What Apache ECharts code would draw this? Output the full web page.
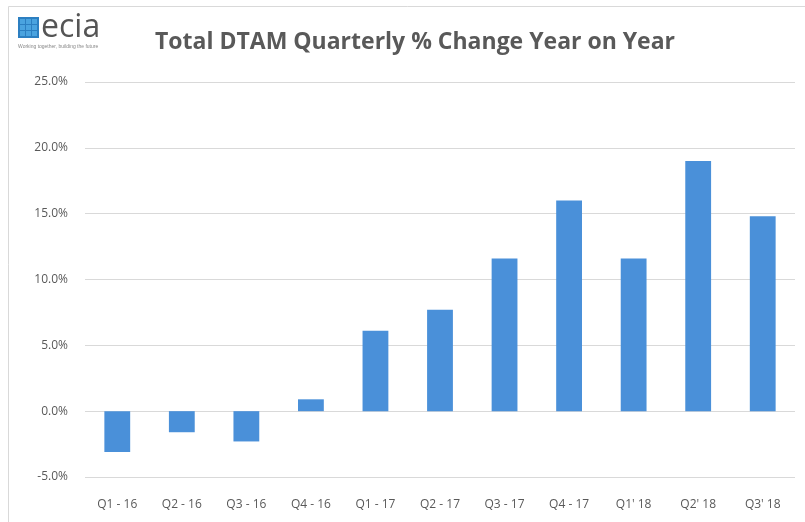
<!DOCTYPE html>
<html><head><meta charset="utf-8">
<script src="https://cdn.jsdelivr.net/npm/echarts@6/dist/echarts.min.js"></script>
<style>html,body{margin:0;padding:0;background:#fff}#c{width:805px;height:522px}</style>
</head><body><div id="c"></div>
<script>
var categories = ["Q1 - 16","Q2 - 16","Q3 - 16","Q4 - 16","Q1 - 17","Q2 - 17","Q3 - 17","Q4 - 17","Q1' 18","Q2' 18","Q3' 18"];
var values = [-3.1, -1.6, -2.3, 0.9, 6.1, 7.7, 11.6, 16.0, 11.6, 19.0, 14.8];
var titleText = "Total DTAM Quarterly % Change Year on Year";

var chart = echarts.init(document.getElementById('c'), null, {renderer:'canvas'});
var logoCells = [];
for (var r=0;r<3;r++) for (var q=0;q<3;q++) {
  logoCells.push({type:'rect', shape:{x:20+q*6, y:19+r*6, width:5, height:5}, style:{fill:'#4aa3df'}});
}
chart.setOption({
  backgroundColor:'#fff',
  animation:false,
  title:{text:titleText, left:150, top:26, textStyle:{fontFamily:'Open Sans', fontWeight:'bold', fontSize:23, color:'#595959'}},
  graphic:[
    {type:'rect', shape:{x:8.5,y:6.5,width:800,height:520}, style:{fill:'none', stroke:'#d9d9d9', lineWidth:1}},
    {type:'rect', shape:{x:18,y:17,width:21,height:21}, style:{fill:'#2c7fc1'}}
  ].concat(logoCells).concat([
    {type:'text', style:{x:41, y:12, text:'ecia', font:'32px "Liberation Sans Narrow", "Open Sans", sans-serif', fill:'#555'}},
    {type:'text', style:{x:18, y:44, text:'Working together, building the future', font:'5px sans-serif', fill:'#888'}}
  ]),
  grid:{left:85, right:10, top:82, bottom:45, containLabel:false},
  xAxis:{type:'category', data:categories,
    axisLine:{show:false}, axisTick:{show:false},
    axisLabel:{color:'#595959', fontSize:12, fontFamily:'Open Sans', margin:22, interval:0}
  },
  yAxis:{type:'value', min:-5, max:25, interval:5,
    axisLabel:{formatter:function(v){return v.toFixed(1)+'%';}, color:'#595959', fontSize:12, fontFamily:'Open Sans', margin:17},
    splitLine:{lineStyle:{color:'#d9d9d9', width:1}},
    axisLine:{show:false}, axisTick:{show:false}
  },
  series:[{type:'bar', data:values, barWidth:'40%', itemStyle:{color:'#4a90d9'}}]
});
</script></body></html>
